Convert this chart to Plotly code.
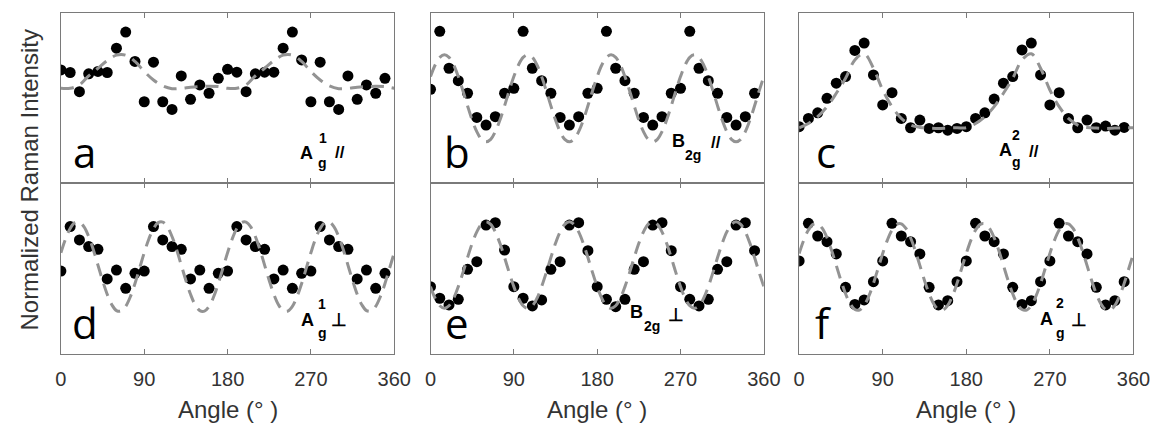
import plotly.graph_objects as go

# ---------------- data ----------------
ANGLES = [0, 10, 20, 30, 40, 50, 60, 70, 80, 90, 100, 110, 120, 130, 140, 150, 160, 170,
          180, 190, 200, 210, 220, 230, 240, 250, 260, 270, 280, 290, 300, 310, 320, 330, 340, 350]

FIT_ANGLES_10 = [0, 10, 20, 30, 40, 50, 60, 70, 80, 90, 100, 110, 120, 130, 140, 150, 160, 170, 180,
                 190, 200, 210, 220, 230, 240, 250, 260, 270, 280, 290, 300, 310, 320, 330, 340, 350, 360]

FIT_ANGLES_5 = [0, 5, 10, 15, 20, 25, 30, 35, 40, 45, 50, 55, 60, 65, 70, 75, 80, 85,
                90, 95, 100, 105, 110, 115, 120, 125, 130, 135, 140, 145, 150, 155, 160, 165, 170, 175,
                180, 185, 190, 195, 200, 205, 210, 215, 220, 225, 230, 235, 240, 245, 250, 255, 260, 265,
                270, 275, 280, 285, 290, 295, 300, 305, 310, 315, 320, 325, 330, 335, 340, 345, 350, 355, 360]

# measured intensities (normalized, arbitrary 0-100 scale)
A1_PAR = [66.5, 65.0, 53.7, 64.2, 65.6, 65.0, 79.3, 88.8, 71.5, 47.8, 71.1, 47.8, 43.3, 63.0, 49.2, 57.7, 52.8, 61.6,
          66.9, 65.2, 53.7, 64.2, 65.2, 65.2, 79.3, 88.8, 72.4, 47.8, 71.1, 47.8, 43.3, 63.0, 49.2, 57.7, 52.8, 61.6]
B2G_PAR = [55.1, 89.2, 67.5, 60.2, 52.8, 38.6, 34.1, 39.0, 52.8,
           55.7, 89.2, 67.5, 60.2, 52.8, 38.6, 34.1, 39.0, 52.8,
           55.7, 89.2, 67.5, 60.2, 52.8, 38.6, 34.1, 39.0, 52.8,
           55.7, 89.2, 67.5, 60.2, 52.8, 38.6, 34.1, 39.0, 52.8]
A2_PAR = [33.1, 38.0, 41.3, 49.8, 58.7, 62.6, 78.0, 82.3, 63.6, 45.9, 53.1, 38.0, 32.5, 37.0, 32.1, 32.5, 31.1, 32.1,
          33.1, 38.0, 41.3, 49.4, 58.7, 62.6, 78.3, 82.3, 63.6, 45.9, 53.1, 38.0, 32.5, 37.0, 32.5, 33.5, 31.1, 32.7]
A1_PERP = [48.5, 74.5, 66.7, 62.8, 61.2, 43.9, 49.1, 38.4, 47.2,
           48.5, 74.5, 66.7, 62.8, 61.2, 43.9, 49.1, 38.4, 47.2,
           48.5, 74.5, 66.7, 62.8, 61.2, 43.9, 49.1, 38.4, 47.2,
           48.5, 74.5, 66.7, 62.8, 61.2, 43.9, 49.1, 38.4, 47.2]
B2G_PERP = [39.4, 32.6, 28.7, 32.0, 49.5, 54.0, 75.4, 76.8, 60.8,
            39.4, 32.6, 28.1, 31.6, 49.5, 54.0, 75.4, 76.8, 60.4,
            39.4, 32.0, 27.7, 32.0, 49.5, 54.0, 75.4, 76.8, 60.4,
            39.4, 32.0, 28.1, 32.0, 49.5, 54.0, 75.4, 76.8, 60.4]
A2_PERP = [54.4, 76.4, 69.0, 65.7, 58.5, 39.0, 29.0, 31.6, 42.3,
           54.4, 76.4, 69.0, 65.7, 58.5, 39.0, 28.7, 31.2, 42.3,
           54.4, 76.4, 69.0, 65.7, 58.5, 39.0, 29.0, 31.2, 42.3,
           54.4, 76.4, 69.0, 65.7, 58.5, 39.0, 28.7, 31.2, 42.3]

# fitted curves
FIT_A1_PAR = [55.7, 55.7, 57.7, 63.0, 67.5, 72.0, 75.2, 75.2, 71.5, 65.6, 60.6, 57.1, 55.5, 55.7, 56.3, 56.7, 56.9, 56.7, 55.7,
              55.7, 57.7, 63.0, 67.5, 72.0, 75.2, 75.2, 71.5, 65.6, 60.6, 57.1, 55.5, 55.7, 56.3, 56.7, 56.9, 56.7, 55.7]
FIT_A2_PAR = [32.5, 35.0, 39.0, 44.9, 52.8, 61.6, 72.4, 76.0, 67.5, 54.7, 44.9, 38.0, 34.1, 32.7, 32.3, 32.1, 32.3, 32.5, 32.5,
              35.0, 39.0, 44.9, 52.8, 61.6, 72.4, 76.0, 67.5, 54.7, 44.9, 38.0, 34.1, 32.7, 32.3, 32.1, 32.3, 32.5, 32.5]
FIT_B2G_PAR = [62.6, 69.4, 73.9, 75.4, 73.9, 69.4, 62.6, 54.3, 45.4, 37.0, 30.2, 25.7, 24.2, 25.7, 30.2, 37.0, 45.4, 54.3,
               62.6, 69.4, 73.9, 75.4, 73.9, 69.4, 62.6, 54.3, 45.4, 37.0, 30.2, 25.7, 24.2, 25.7, 30.2, 37.0, 45.4, 54.3,
               62.6, 69.4, 73.9, 75.4, 73.9, 69.4, 62.6, 54.3, 45.4, 37.0, 30.2, 25.7, 24.2, 25.7, 30.2, 37.0, 45.4, 54.3,
               62.6, 69.4, 73.9, 75.4, 73.9, 69.4, 62.6, 54.3, 45.4, 37.0, 30.2, 25.7, 24.2, 25.7, 30.2, 37.0, 45.4, 54.3,
               62.6]
FIT_A1_PERP = [59.2, 67.3, 73.4, 76.8, 77.1, 74.3, 68.7, 61.0, 52.0, 43.0, 34.9, 28.8, 25.4, 25.1, 27.9, 33.5, 41.2, 50.2,
               59.2, 67.3, 73.4, 76.8, 77.1, 74.3, 68.7, 61.0, 52.0, 43.0, 34.9, 28.8, 25.4, 25.1, 27.9, 33.5, 41.2, 50.2,
               59.2, 67.3, 73.4, 76.8, 77.1, 74.3, 68.7, 61.0, 52.0, 43.0, 34.9, 28.8, 25.4, 25.1, 27.9, 33.5, 41.2, 50.2,
               59.2, 67.3, 73.4, 76.8, 77.1, 74.3, 68.7, 61.0, 52.0, 43.0, 34.9, 28.8, 25.4, 25.1, 27.9, 33.5, 41.2, 50.2,
               59.2]
FIT_B2G_PERP = [39.4, 32.6, 28.2, 26.7, 28.2, 32.6, 39.4, 47.6, 56.4, 64.7, 71.4, 75.8, 77.3, 75.8, 71.4, 64.7, 56.4, 47.6,
                39.4, 32.6, 28.2, 26.7, 28.2, 32.6, 39.4, 47.6, 56.4, 64.7, 71.4, 75.8, 77.3, 75.8, 71.4, 64.7, 56.4, 47.6,
                39.4, 32.6, 28.2, 26.7, 28.2, 32.6, 39.4, 47.6, 56.4, 64.7, 71.4, 75.8, 77.3, 75.8, 71.4, 64.7, 56.4, 47.6,
                39.4, 32.6, 28.2, 26.7, 28.2, 32.6, 39.4, 47.6, 56.4, 64.7, 71.4, 75.8, 77.3, 75.8, 71.4, 64.7, 56.4, 47.6,
                39.4]
FIT_A2_PERP = [58.8, 66.6, 72.5, 75.8, 76.1, 73.4, 68.0, 60.5, 51.8, 43.0, 35.2, 29.3, 26.0, 25.7, 28.4, 33.8, 41.3, 50.0,
               58.8, 66.6, 72.5, 75.8, 76.1, 73.4, 68.0, 60.5, 51.8, 43.0, 35.2, 29.3, 26.0, 25.7, 28.4, 33.8, 41.3, 50.0,
               58.8, 66.6, 72.5, 75.8, 76.1, 73.4, 68.0, 60.5, 51.8, 43.0, 35.2, 29.3, 26.0, 25.7, 28.4, 33.8, 41.3, 50.0,
               58.8, 66.6, 72.5, 75.8, 76.1, 73.4, 68.0, 60.5, 51.8, 43.0, 35.2, 29.3, 26.0, 25.7, 28.4, 33.8, 41.3, 50.0,
               58.8]

PANEL_LETTERS = ["a", "b", "c", "d", "e", "f"]
TICK_VALUES = [0, 90, 180, 270, 360]
TICK_TEXT = ["0", "90", "180", "270", "360"]
X_TITLE = "Angle (° )"
Y_TITLE = "Normalized Raman Intensity"

# ---------------- layout geometry ----------------
W, H = 1173, 426
COLS_PX = [(56, 396), (433, 773), (809, 1150)]
ROWS_PX = [(13, 183), (183, 354)]


def px(x, y):
    return x / W, 1 - y / H


def xdom(c):
    a, b = COLS_PX[c]
    return [a / W, b / W]


def ydom(r):
    t, b = ROWS_PX[r]
    return [1 - b / H, 1 - t / H]


panels = [
    (A1_PAR, FIT_ANGLES_10, FIT_A1_PAR),
    (B2G_PAR, FIT_ANGLES_5, FIT_B2G_PAR),
    (A2_PAR, FIT_ANGLES_10, FIT_A2_PAR),
    (A1_PERP, FIT_ANGLES_5, FIT_A1_PERP),
    (B2G_PERP, FIT_ANGLES_5, FIT_B2G_PERP),
    (A2_PERP, FIT_ANGLES_5, FIT_A2_PERP),
]

fig = go.Figure()
AX_COL = "#7a7a7a"
TXT_COL = "#333333"
FONT = "Liberation Sans, Arial, sans-serif"

for i, (pts, fx, fy) in enumerate(panels):
    n = "" if i == 0 else str(i + 1)
    fig.add_trace(go.Scatter(x=ANGLES, y=pts, mode="markers", xaxis="x" + n, yaxis="y" + n,
                             marker=dict(color="black", size=11), showlegend=False, hoverinfo="skip"))
    fig.add_trace(go.Scatter(x=fx, y=fy, mode="lines", xaxis="x" + n, yaxis="y" + n,
                             line=dict(color="#939393", width=3, dash="13px,8px", shape="spline"),
                             showlegend=False, hoverinfo="skip"))
    r, c = divmod(i, 3)
    bottom = r == 1
    fig.layout["xaxis" + n] = dict(
        domain=xdom(c), anchor="y" + n, range=[0, 360],
        tickvals=TICK_VALUES, ticktext=TICK_TEXT, ticks="inside", ticklen=5, tickcolor=AX_COL,
        showticklabels=bottom, tickfont=dict(size=20, color=TXT_COL, family=FONT),
        ticklabelstandoff=7,
        showline=True, linecolor=AX_COL, linewidth=1, mirror="ticks",
        showgrid=False, zeroline=False)
    fig.layout["yaxis" + n] = dict(
        domain=ydom(r), anchor="x" + n, range=[0, 100],
        showticklabels=False, ticks="", showline=True, linecolor=AX_COL, linewidth=1, mirror=True,
        showgrid=False, zeroline=False)

annotations = []


def note(x, y, text, size, color="black", bold=False, family=FONT, angle=0):
    xx, yy = px(x, y)
    annotations.append(dict(xref="paper", yref="paper", x=xx, y=yy, xanchor="center", yanchor="middle",
                            text=("<b>" + text + "</b>") if bold else text, showarrow=False, textangle=angle,
                            font=dict(size=size, color=color, family=family)))


# panel letters (center x px, box-center y px)
LETTER_POS = [(80, 151), (460, 151), (836, 151), (81, 322), (460, 322), (834, 322)]
for letter, (lx, ly) in zip(PANEL_LETTERS, LETTER_POS):
    note(lx, ly, letter, 42, family="Open Sans, sans-serif")

# mode labels, built from pieces: (text, x, y, size)
MODE_PIECES = [
    ("A", 306, 152.5, 18), ("g", 323, 163, 14), ("1", 323, 137.5, 14), ("//", 340.5, 152.5, 17),
    ("B", 686, 141.5, 18), ("2g", 701, 154.5, 14), ("//", 724, 142.5, 17),
    ("A", 1019, 150, 18), ("g", 1031, 162, 14), ("2", 1030, 135, 14), ("//", 1048.5, 151, 17),
    ("A", 307.5, 320, 18), ("g", 322.5, 333, 14), ("1", 322, 304, 14), ("⊥", 340, 320, 18),
    ("B", 643, 311.5, 18), ("2g", 659, 325.5, 14), ("⊥", 683, 315, 18),
    ("A", 1061.5, 319, 18), ("g", 1076, 333, 14), ("2", 1075.5, 303, 14), ("⊥", 1094, 319.5, 18),
]
for t, x, y, s in MODE_PIECES:
    note(x, y, t, s, bold=True)

# axis titles
for c in range(3):
    a, b = COLS_PX[c]
    note((a + b) / 2, 409, X_TITLE, 24, color=TXT_COL)
note(23, 180, Y_TITLE, 24, color=TXT_COL, angle=-90)

fig.update_layout(width=W, height=H, autosize=False, margin=dict(l=0, r=0, t=0, b=0),
                  paper_bgcolor="white", plot_bgcolor="white", annotations=annotations)

POST = """
var gd = document.getElementById('{plot_id}');
var css = 'margin:0;padding:0;border:0;overflow:hidden;';
document.documentElement.style.cssText = css;
document.body.style.cssText = css;
gd.style.position = 'fixed';
gd.style.left = '0px';
gd.style.top = '0px';
"""

fig.write_html("out.html", config={"responsive": False, "displayModeBar": False},
               default_width=W, default_height=H, post_script=POST)
